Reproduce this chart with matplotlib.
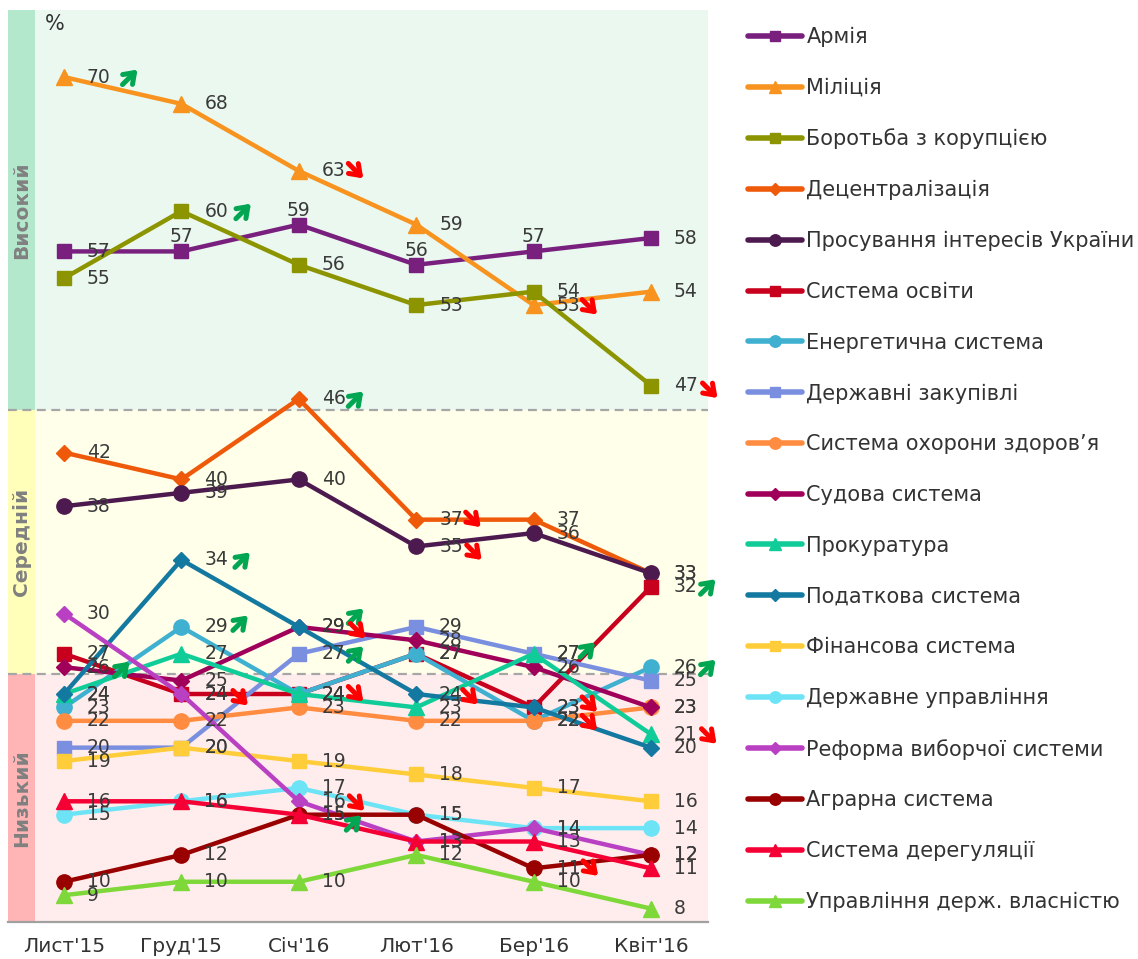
import matplotlib
matplotlib.use("Agg")
import matplotlib.pyplot as plt
from matplotlib.lines import Line2D
from matplotlib.transforms import offset_copy

# ---------------- data ----------------
months = ["Лист'15", "Груд'15", "Січ'16", "Лют'16", "Бер'16", "Квіт'16"]

series_names = [
    "Армія", "Міліція", "Боротьба з корупцією", "Децентралізація",
    "Просування інтересів України", "Система освіти", "Енергетична система",
    "Державні закупівлі", "Система охорони здоров’я", "Судова система",
    "Прокуратура", "Податкова система", "Фінансова система",
    "Державне управління", "Реформа виборчої системи", "Аграрна система",
    "Система дерегуляції", "Управління держ. власністю",
]

army = [57, 57, 59, 56, 57, 58]
militia = [70, 68, 63, 59, 53, 54]
anticorruption = [55, 60, 56, 53, 54, 47]
decentralization = [42, 40, 46, 37, 37, 33]
ukraine_interests = [38, 39, 40, 35, 36, 33]
education = [27, 24, 24, 27, 23, 32]
energy = [23, 29, 24, 27, 22, 26]
procurement = [20, 20, 27, 29, 27, 25]
healthcare = [22, 22, 23, 22, 22, 23]
judiciary = [26, 25, 29, 28, 26, 23]
prosecution = [24, 27, 24, 23, 27, 21]
tax = [24, 34, 29, 24, 23, 20]
finance = [19, 20, 19, 18, 17, 16]
public_admin = [15, 16, 17, 15, 14, 14]
electoral = [30, 24, 16, 13, 14, 12]
agrarian = [10, 12, 15, 15, 11, 12]
deregulation = [16, 16, 15, 13, 13, 11]
state_property = [9, 10, 10, 12, 10, 8]

values = [army, militia, anticorruption, decentralization, ukraine_interests,
          education, energy, procurement, healthcare, judiciary, prosecution,
          tax, finance, public_admin, electoral, agrarian, deregulation,
          state_property]

# level bands (low / medium / high)
band_names = ["Низький", "Середній", "Високий"]
band_edges = [7, 25.5, 45.2, 75]

# significant-change indicators: (series index, month index, direction)
change_marks = [
    (1, 0, "up"), (1, 2, "down"), (2, 1, "up"), (3, 2, "up"), (2, 5, "down"),
    (1, 4, "down"), (3, 3, "down"), (4, 3, "down"), (11, 1, "up"),
    (6, 1, "up"), (9, 2, "up"), (11, 2, "down"), (7, 2, "up"), (9, 0, "up"),
    (5, 1, "down"), (10, 2, "down"), (11, 3, "down"), (10, 4, "up"),
    (5, 4, "down"), (6, 4, "down"), (5, 5, "up"), (6, 5, "up"),
    (10, 5, "down"), (14, 2, "down"), (15, 2, "up"), (15, 4, "down"),
]

# ---------------- style ----------------
colors = ["#79207F", "#F7931E", "#8C9400", "#EE5A0A", "#4D1A4F", "#C8001E",
          "#3FB0D0", "#7B8FE0", "#FF8C40", "#A0005A", "#10CC99", "#1479A0",
          "#FFCC3A", "#6DE4F5", "#B940C2", "#990000", "#F50035", "#7ED83A"]
markers = ["s", "^", "s", "D", "o", "s", "o", "s", "o", "D", "^", "D", "s",
           "o", "D", "o", "^", "^"]
msizes = {"s": 10, "^": 11, "o": 11, "D": 8.5}

band_fill = ["#FFEDED", "#FFFFEA", "#EAF8EF"]
band_strip = ["#FFB5B5", "#FFFFB9", "#B3E8CC"]

plt.rcParams["font.family"] = ["DejaVu Sans"]

W, H = 1138, 959
fig = plt.figure(figsize=(W / 100, H / 100), dpi=100)
ax_l, ax_r, ax_t, ax_b = 8, 708, 10, 922
ax = fig.add_axes([ax_l / W, 1 - ax_b / H, (ax_r - ax_l) / W, (ax_b - ax_t) / H])

x0_px, dx_px = 64, 117.4
xmin = (ax_l - x0_px) / dx_px
xmax = 5 + (ax_r - (x0_px + 5 * dx_px)) / dx_px
strip_end = (35 - x0_px) / dx_px
ax.set_xlim(xmin, xmax)
ax.set_ylim(band_edges[0], band_edges[-1])

for i in range(3):
    lo, hi = band_edges[i], band_edges[i + 1]
    ax.axhspan(lo, hi, xmin=0, xmax=1, color=band_fill[i], lw=0, zorder=0)
    ax.fill_between([xmin, strip_end], lo, hi, color=band_strip[i], lw=0, zorder=0.5)
    ax.text((xmin + strip_end) / 2, (lo + hi) / 2, band_names[i], rotation=90,
            ha="center", va="center", fontsize=14.5, fontweight="bold",
            color="#808080", zorder=1)
for e in band_edges[1:-1]:
    ax.axhline(e, color="#A6A6A6", lw=1.6, ls=(0, (4, 2.5)), zorder=1)

xs = list(range(len(months)))
for i, (name, vals) in enumerate(zip(series_names, values)):
    m = markers[i]
    ax.plot(xs, vals, color=colors[i], lw=3.2, marker=m, ms=msizes[m],
            mec=colors[i], mfc=colors[i], solid_joinstyle="round",
            zorder=2 + i * 0.01)

# data labels
for i, vals in enumerate(values):
    for j, v in enumerate(vals):
        if i == 0 and 0 < j < len(vals) - 1:
            ax.annotate(str(v), (j, v), xytext=(0, 10.5), textcoords="offset points",
                        ha="center", va="center", fontsize=13.5, color="#3A3A3A",
                        zorder=5)
        else:
            ax.annotate(str(v), (j, v), xytext=(16.5, 0), textcoords="offset points",
                        ha="left", va="center", fontsize=13.5, color="#3A3A3A",
                        zorder=5)

# change arrows
nudge = {0: (66, 0), 2: (62, 0), 4: (59, 5), 5: (56, 2), 7: (58, 6),
         8: (61, 0), 9: (59, -4), 10: (57, -11), 11: (59, 4), 13: (58, 2),
         14: (59, 4), 16: (54, 3), 17: (54, -4), 18: (56, -3), 19: (56, 2),
         22: (58, 2), 24: (55, 8), 23: (58, 2)}
for k, (si, mi, d) in enumerate(change_marks):
    v = values[si][mi]
    cdx, cdy = nudge.get(k, (57, 0))
    cy = -cdy
    h = 7.5
    if d == "up":
        s, e, col = (cdx - h, cy - h), (cdx + h, cy + h), "#00A651"
    else:
        s, e, col = (cdx - h, cy + h), (cdx + h, cy - h), "#FF0000"
    t0 = offset_copy(ax.transData, fig=fig, x=s[0], y=s[1], units="dots")
    t1 = offset_copy(ax.transData, fig=fig, x=e[0], y=e[1], units="dots")
    ax.annotate("", xy=(mi, v), xycoords=t1, xytext=(mi, v), textcoords=t0,
                arrowprops=dict(arrowstyle="->,head_length=0.7,head_width=0.5",
                                lw=3.6, color=col, shrinkA=0, shrinkB=0),
                zorder=6)

ax.text((45 - ax_l) / (ax_r - ax_l), 0.996, "%", transform=ax.transAxes,
        fontsize=15, color="#333333", ha="left", va="top")

ax.set_xticks(xs)
ax.set_xticklabels(months, fontsize=14.5, color="#333333")
ax.tick_params(axis="x", length=0, pad=11)
ax.set_yticks([])
for sp in ["left", "right", "top"]:
    ax.spines[sp].set_visible(False)
ax.spines["bottom"].set_color("#A0A0A0")
ax.spines["bottom"].set_linewidth(1.6)

# legend
handles = [Line2D([0], [0], color=colors[i], lw=4, marker=markers[i],
                  ms=msizes[markers[i]] * 0.75, solid_capstyle="round")
           for i in range(len(series_names))]
fig.legend(handles, series_names, loc="upper left",
           bbox_to_anchor=(748 / W, 1 - 27 / H), bbox_transform=fig.transFigure,
           frameon=False, fontsize=15, handlelength=2.6, handletextpad=0.2,
           labelspacing=1.475, borderpad=0, borderaxespad=0,
           labelcolor="#333333")

fig.savefig("out.png", dpi=100)
